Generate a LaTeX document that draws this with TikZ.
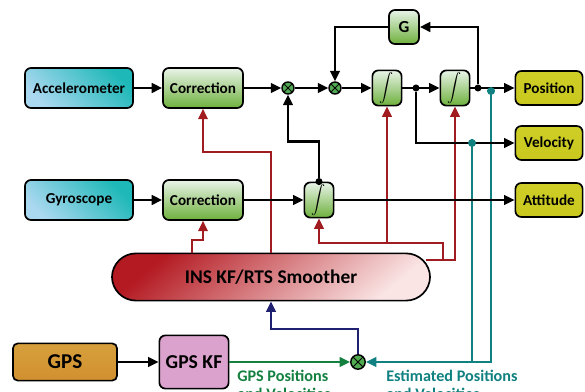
\documentclass[tikz,border=0pt]{standalone}
\usepackage{fontspec}
\setmainfont{Carlito}
\usetikzlibrary{arrows.meta}

\definecolor{insred}{RGB}{160,28,32}
\definecolor{insteal}{RGB}{16,128,128}
\definecolor{insblue}{RGB}{32,32,112}
\definecolor{insgreen}{RGB}{20,128,64}
\definecolor{sumgreen}{RGB}{80,170,80}

\tikzset{
  blk/.style={rounded corners=1.5mm, draw=black, line width=1.2pt, inner sep=0pt,
    font=\bfseries\fontsize{10.8}{12}\selectfont},
  sensor/.style={blk, top color={rgb,255:red,30;green,184;blue,184},
    bottom color={rgb,255:red,170;green,216;blue,240}, shading angle=-45,
    minimum width=2.7cm, minimum height=1cm},
  corr/.style={blk, top color={rgb,255:red,232;green,244;blue,232},
    bottom color={rgb,255:red,110;green,176;blue,60},
    minimum width=2cm, minimum height=1cm},
  integ/.style={corr, minimum width=0.73cm, minimum height=0.88cm},
  outbox/.style={blk, top color={rgb,255:red,206;green,206;blue,40},
    middle color={rgb,255:red,240;green,240;blue,110},
    bottom color={rgb,255:red,200;green,200;blue,30},
    minimum width=1.68cm, minimum height=0.85cm},
  sumpt/.style={circle, draw=black, line width=1pt, fill=sumgreen, inner sep=0pt,
    minimum size=0.3cm,
    path picture={\draw[line width=0.6pt]
      (path picture bounding box.north west) -- (path picture bounding box.south east)
      (path picture bounding box.north east) -- (path picture bounding box.south west);}},
  dotpt/.style={circle, fill=black, inner sep=0pt, minimum size=5pt},
  tdot/.style={circle, fill=insteal, inner sep=0pt, minimum size=5.5pt},
  wire/.style={line width=1.6pt},
  arr/.style={-{Triangle[length=2.6mm,width=2.4mm]}},
  redw/.style={insred, line width=1.4pt},
  lbl/.style={font=\bfseries\fontsize{11.5}{13}\selectfont, align=left, inner sep=0pt}
}

\begin{document}
\begin{tikzpicture}[x=0.025cm,y=-0.025cm]
\useasboundingbox (0,0) rectangle (585,392);

% top row
\node[sensor] (acc) at (79,88) {Accelerometer};
\node[corr] (corr1) at (203,88) {Correction};
\node[sumpt] (sum1) at (288,88) {};
\node[sumpt] (sum2) at (335,88) {};
\node[integ] (int1) at (387,88) {\fontsize{7.5}{8}\selectfont$\displaystyle\int$};
\node[dotpt] (d1) at (416,88) {};
\node[integ] (int2) at (455,88) {\fontsize{7.5}{8}\selectfont$\displaystyle\int$};
\node[dotpt] (d2) at (478,88) {};
\node[outbox] (pos) at (549,88) {Position};
\node[corr, minimum width=0.75cm, minimum height=0.85cm,
  font=\bfseries\fontsize{12}{13}\selectfont] (g) at (404,27) {G};
\node[outbox] (vel) at (549,143) {Velocity};

% gyro row
\node[sensor] (gyro) at (79,200) {Gyroscope};
\node[corr] (corr2) at (203,200) {Correction};
\node[integ] (int3) at (319,200) {\fontsize{7.5}{8}\selectfont$\displaystyle\int$};
\node[dotpt] (d3) at (int3.north) {};
\node[outbox] (att) at (549,200) {Attitude};

% filter and GPS
\node[blk, rounded corners=6mm, minimum width=7.95cm, minimum height=1.18cm,
  top color={rgb,255:red,180;green,26;blue,34}, bottom color={rgb,255:red,250;green,228;blue,228},
  shading angle=40, font=\bfseries\fontsize{13.8}{15}\selectfont] (smooth) at (271,277) {INS KF/RTS Smoother};
\node[blk, rounded corners=1.2mm, minimum width=2.6cm, minimum height=0.93cm,
  top color={rgb,255:red,214;green,160;blue,60}, middle color={rgb,255:red,252;green,244;blue,170},
  bottom color={rgb,255:red,210;green,144;blue,48},
  font=\bfseries\fontsize{15}{16}\selectfont] (gps) at (65,362) {GPS};
\node[blk, minimum width=1.73cm, minimum height=1.33cm, fill={rgb,255:red,218;green,162;blue,204},
  font=\bfseries\fontsize{14}{15}\selectfont] (gpskf) at (194,362) {GPS KF};
\node[sumpt, minimum size=0.36cm] (sum3) at (358,362) {};

% red feedback
\coordinate (rA) at (192,253);
\draw[redw,arr] (rA) -- ++(0,-13) -| (corr2.south);
\draw[redw,arr] (smooth.north) -- ++(0,-101) -| (corr1.south);
\coordinate (rB) at (426,260);
\coordinate (rC) at (443,260);
\coordinate (rE) at (443,243);
\draw[redw,arr] (rB) -| (int2.south);
\draw[redw,arr] (rC) -- (rE) -| (int3.south);
\draw[redw,arr] (int1.south |- rE) -- (int1.south);

% estimated states back to the filter
\node[tdot] (t1) at (491,91) {};
\node[tdot] (t2) at (472,143) {};
\draw[insteal,line width=1.4pt,arr] (t1) |- (sum3.east);
\draw[insteal,line width=1.4pt] (t2) -- (t2 |- sum3);
\draw[insblue,line width=1.4pt,arr] (sum3.north) -- ++(0,-25) -| (smooth.south);
\draw[insgreen,line width=1.6pt,arr] (gpskf.east) -- (sum3.west);

% signal flow
\draw[wire,arr] (acc) -- (corr1);
\draw[wire,arr] (corr1) -- (sum1);
\draw[wire,arr] (sum1) -- (sum2);
\draw[wire,arr] (sum2) -- (int1);
\draw[wire,arr] (int1) -- (int2);
\draw[wire,arr] (int2) -- (pos);
\draw[wire,arr] (d2) |- (g.east);
\draw[wire,arr] (g.west) -| (sum2.north);
\draw[wire,arr] (d1) |- (vel.west);
\draw[wire,arr] (gyro) -- (corr2);
\draw[wire,arr] (corr2) -- (int3);
\draw[wire,arr] (int3) -- (att);
\draw[wire,arr] (d3) -- ++(0,-40) -| (sum1.south);
\draw[wire,arr] (gps) -- (gpskf);
\node[tdot] at (t1) {};
\node[tdot] at (t2) {};

\node[lbl, insgreen, anchor=north west] (lgps) at (237,370) {GPS Positions\\and Velocities};
\node[lbl, insteal, anchor=north west] (lest) at (386,370) {Estimated Positions\\and Velocities};

\end{tikzpicture}
\end{document}
